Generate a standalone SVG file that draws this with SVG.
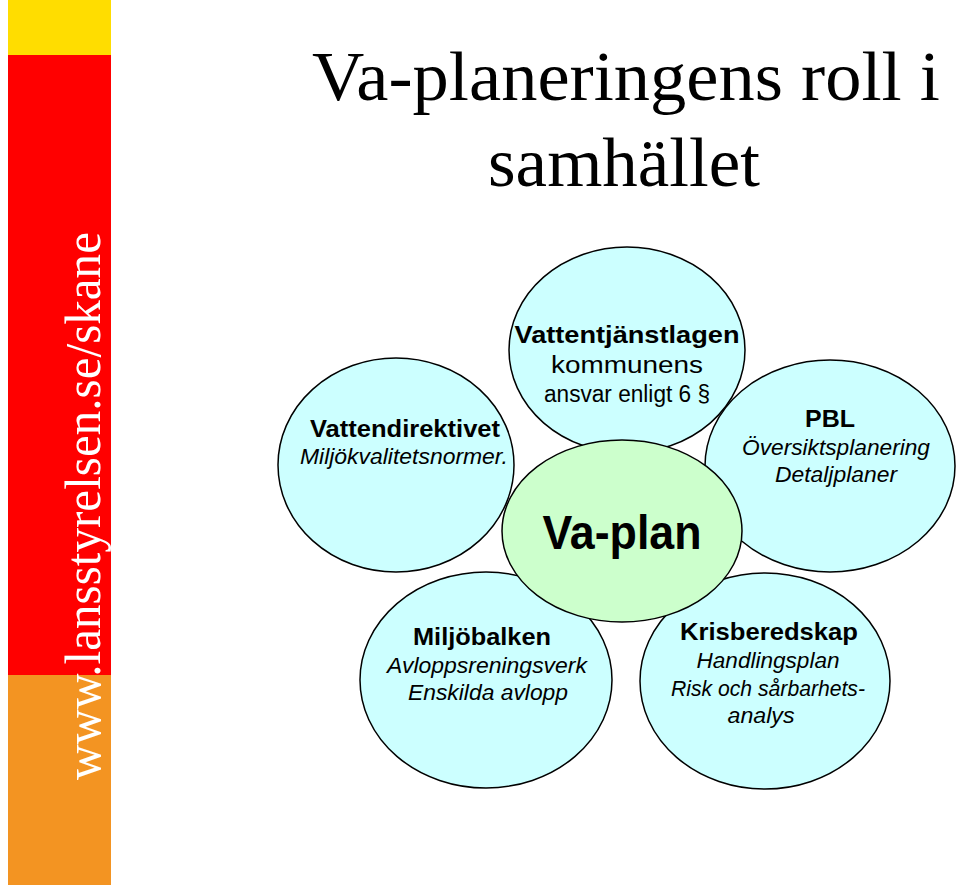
<svg xmlns="http://www.w3.org/2000/svg" width="960" height="885" viewBox="0 0 960 885">
<style>
.e{fill:#ccffff;stroke:#000;stroke-width:1.5}
.t{font-family:"Liberation Sans",Arial,sans-serif;text-anchor:middle;fill:#000}
.b{font-weight:bold;font-size:24px}
.n{font-size:23px}
.i{font-size:22px;font-style:italic}
</style>
<rect width="960" height="885" fill="#fff"/>
<rect x="8" y="0" width="103" height="55" fill="#ffdd00"/>
<rect x="8" y="55" width="103" height="620" fill="#ff0000"/>
<rect x="8" y="675" width="103" height="210" fill="#f39422"/>
<text transform="translate(100,780) rotate(-90)" font-family="Liberation Serif,serif" font-size="50" fill="#fff" textLength="548" lengthAdjust="spacingAndGlyphs">www.lansstyrelsen.se/skane</text>
<g font-family="Liberation Serif,serif" font-size="70" text-anchor="middle">
<text x="626" y="100" textLength="628" lengthAdjust="spacingAndGlyphs">Va-planeringens roll i</text>
<text x="624" y="186" textLength="272" lengthAdjust="spacingAndGlyphs">samhället</text>
</g>
<g id="vattentjanstlagen"><ellipse class="e" cx="627" cy="350" rx="118" ry="103"/>
<text class="t b" x="627" y="343" textLength="225" lengthAdjust="spacingAndGlyphs">Vattentjänstlagen</text>
<text class="t n" x="627" y="373" textLength="152" lengthAdjust="spacingAndGlyphs">kommunens</text>
<text class="t n" x="627" y="402" textLength="166" lengthAdjust="spacingAndGlyphs">ansvar enligt 6 §</text></g>
<g id="vattendirektivet"><ellipse class="e" cx="396" cy="465" rx="118" ry="107"/>
<text class="t b" x="405" y="437" textLength="190" lengthAdjust="spacingAndGlyphs">Vattendirektivet</text>
<text class="t i" x="404" y="464" textLength="208" lengthAdjust="spacingAndGlyphs">Miljökvalitetsnormer.</text></g>
<g id="pbl"><ellipse class="e" cx="830" cy="466" rx="125" ry="106"/>
<text class="t b" x="830" y="427" textLength="50" lengthAdjust="spacingAndGlyphs">PBL</text>
<text class="t i" x="836" y="455" textLength="188" lengthAdjust="spacingAndGlyphs">Översiktsplanering</text>
<text class="t i" x="836" y="482" textLength="122" lengthAdjust="spacingAndGlyphs">Detaljplaner</text></g>
<g id="miljobalken"><ellipse class="e" cx="486" cy="680" rx="126" ry="108"/>
<text class="t b" x="482" y="645" textLength="138" lengthAdjust="spacingAndGlyphs">Miljöbalken</text>
<text class="t i" x="487" y="673" textLength="200" lengthAdjust="spacingAndGlyphs">Avloppsreningsverk</text>
<text class="t i" x="488" y="700" textLength="160" lengthAdjust="spacingAndGlyphs">Enskilda avlopp</text></g>
<g id="krisberedskap"><ellipse class="e" cx="765" cy="681" rx="125" ry="108"/>
<text class="t b" x="769" y="640" textLength="178" lengthAdjust="spacingAndGlyphs">Krisberedskap</text>
<text class="t i" x="768" y="668" textLength="143" lengthAdjust="spacingAndGlyphs">Handlingsplan</text>
<text class="t i" x="768" y="696" textLength="194" lengthAdjust="spacingAndGlyphs">Risk och sårbarhets-</text>
<text class="t i" x="761" y="723" textLength="67" lengthAdjust="spacingAndGlyphs">analys</text></g>
<g id="vaplan"><ellipse cx="622" cy="531" rx="120" ry="91" fill="#ccffcc" stroke="#000" stroke-width="1.5"/>
<text class="t" x="622" y="549" font-size="48" font-weight="bold" textLength="159" lengthAdjust="spacingAndGlyphs">Va-plan</text></g>
<g id="connectors"/>
</svg>
